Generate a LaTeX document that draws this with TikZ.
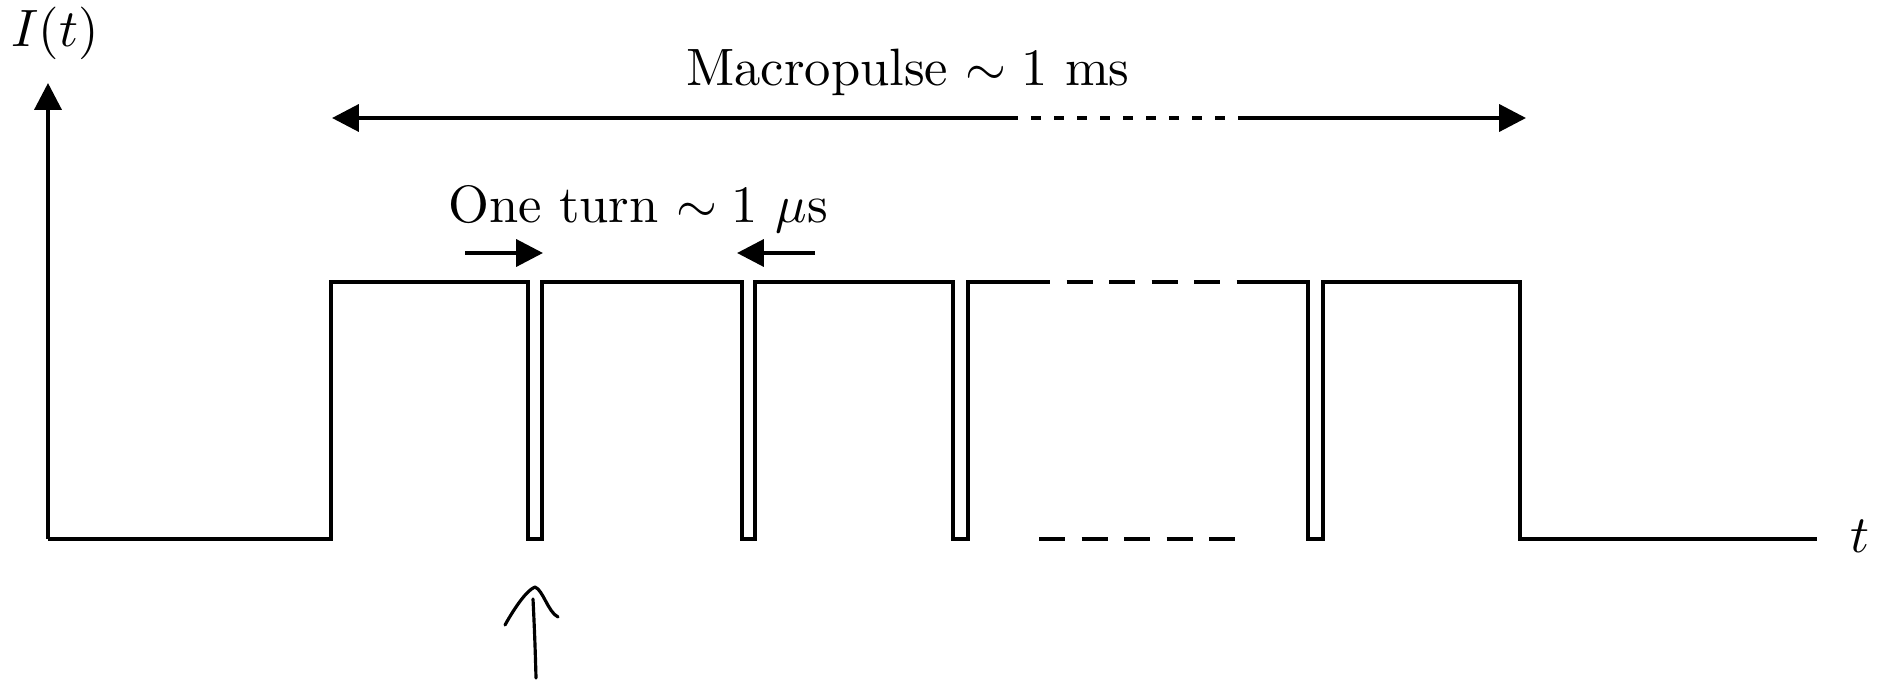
\documentclass[tikz,border=0pt]{standalone}
\usetikzlibrary{arrows.meta}
\begin{document}
\begin{tikzpicture}[x=0.2083pt,y=-0.2083pt,
  every node/.style={font=\fontsize{10.95pt}{13pt}\selectfont},
  wave/.style={line width=0.83pt,line join=miter},
  tip/.style={-{Triangle[length=5.6pt,width=5.6pt]},line width=0.83pt},
  dashseg/.style={line width=0.83pt,dash pattern=on 5.42pt off 3.44pt},
  dotseg/.style={line width=0.85pt,dash pattern=on 2.1pt off 2.7pt,dash phase=2.1pt},
  hand/.style={line width=0.66pt,line cap=round,line join=round}]
\useasboundingbox (0,0) rectangle (1885,681);
% axes
\coordinate (O) at (48,539);
\coordinate (Ytop) at (48,83);
\coordinate (Xend) at (1817,539);
\draw[tip] (O) -- (Ytop);
\node[anchor=base] (Ilab) at (55,47) {$I(t)$};
\node[anchor=base west,inner sep=0pt] (tlab) at (1849,552) {$t$};
% waveform
\draw[wave] (O) -- (331,539) -- (331,282) -- (528,282) -- (528,539) -- (542,539) -- (542,282)
  -- (742,282) -- (742,539) -- (755,539) -- (755,282) -- (953,282) -- (953,539) -- (968,539)
  -- (968,282) -- (1024,282);
\draw[dashseg] (1024,282) -- (1250,282);
\draw[wave] (1250,282) -- (1308,282) -- (1308,539) -- (1323,539) -- (1323,282) -- (1520,282)
  -- (1520,539) -- (Xend);
\draw[dashseg] (1039,539) -- (1235,539);
% macropulse arrow
\coordinate (mL) at (332,118);
\coordinate (mA) at (1018,118);
\coordinate (mB) at (1238,118);
\coordinate (mR) at (1526,118);
\draw[{Triangle[length=5.6pt,width=5.6pt]}-,line width=0.83pt] (mL) -- (mA);
\draw[dotseg] (mA) -- (mB);
\draw[tip] (mB) -- (mR);
\node[anchor=base] (macro) at (908,86) {Macropulse $\sim 1$ ms};
% one turn
\node[anchor=base] (turn) at (638,222) {One turn $\sim 1$ $\mu$s};
\coordinate (a1s) at (465,253);
\coordinate (a1e) at (543,253);
\coordinate (a2s) at (815,253);
\coordinate (a2e) at (737,253);
\draw[tip] (a1s) -- (a1e);
\draw[tip] (a2s) -- (a2e);
% hand-drawn arrow
\coordinate (hB) at (536,678);
\coordinate (hT) at (533,599);
\draw[hand] (hB) .. controls (535,640) and (534,620) .. (hT);
\draw[hand] (505,625) .. controls (515,607) and (527,590) .. (535,587)
  .. controls (543,590) and (548,612) .. (558,617);
\end{tikzpicture}
\end{document}
